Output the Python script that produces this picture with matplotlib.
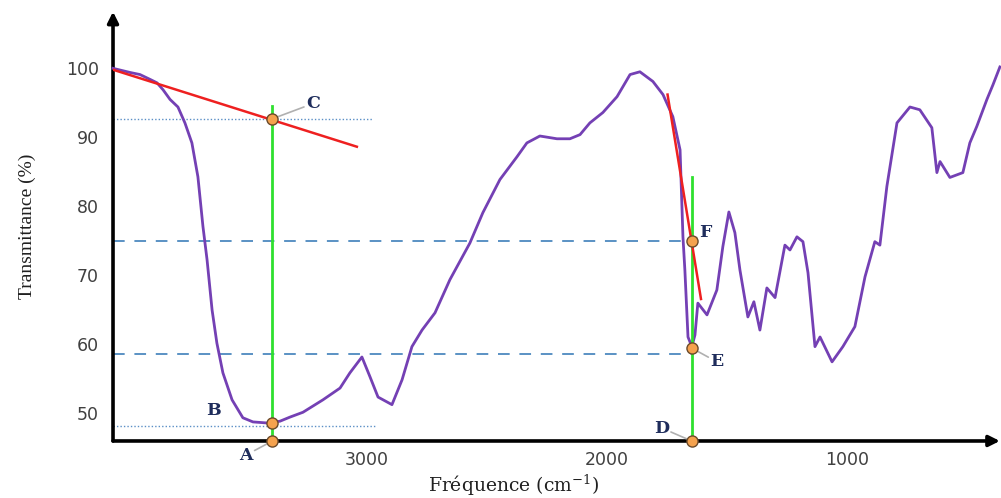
import numpy as np
import matplotlib.pyplot as plt

# IR spectrum (wavenumber cm-1, transmittance %)
wavenumber = [4054, 3983, 3942, 3900, 3871, 3846, 3817, 3784, 3755, 3726,
              3701, 3680, 3663, 3642, 3622, 3597, 3559, 3514, 3472, 3414,
              3360, 3318, 3264, 3181, 3110, 3069, 3019, 2985, 2952, 2894,
              2852, 2811, 2769, 2715, 2653, 2570, 2516, 2445, 2374, 2333,
              2279, 2208, 2154, 2112, 2071, 2017, 1958, 1904, 1863, 1809,
              1767, 1726, 1696, 1684, 1676, 1663, 1647, 1634, 1622, 1584,
              1543, 1518, 1493, 1468, 1447, 1414, 1389, 1364, 1335, 1301,
              1260, 1239, 1210, 1185, 1164, 1135, 1114, 1064, 1019, 969,
              927, 886, 865, 836, 794, 740, 699, 649, 628, 615,
              574, 520, 491, 462, 420, 395, 366]
transmittance = [99.9, 99.3, 99.0, 98.3, 97.8, 96.8, 95.4, 94.3, 92.0, 89.1,
                 84.2, 77.0, 72.2, 64.9, 60.1, 55.8, 51.9, 49.3, 48.7, 48.55,
                 48.8, 49.4, 50.1, 51.9, 53.6, 55.8, 58.1, 55.2, 52.3, 51.2,
                 54.8, 59.6, 62.0, 64.5, 69.3, 74.6, 79.0, 83.8, 87.1, 89.1,
                 90.1, 89.7, 89.7, 90.3, 92.0, 93.5, 95.8, 99.0, 99.4, 98.0,
                 96.1, 92.9, 88.1, 75.5, 70.7, 61.0, 59.6, 61.3, 65.9, 64.2,
                 67.8, 74.1, 79.1, 76.1, 70.7, 63.9, 66.1, 62.0, 68.1, 66.7,
                 74.3, 73.6, 75.5, 74.8, 70.3, 59.6, 61.0, 57.4, 59.6, 62.5,
                 69.7, 74.8, 74.3, 82.8, 92.0, 94.3, 93.9, 91.3, 84.8, 86.4,
                 84.1, 84.8, 89.1, 91.5, 95.4, 97.5, 100.1]

# construction lines
tangent1_x = [4054, 3040]
tangent1_y = [99.7, 88.55]
tangent2_x = [1748, 1609]
tangent2_y = [96.1, 66.5]
vline1_x, vline1_top = 3391, 94.5
vline2_x, vline2_top = 1648, 84.2
level_C, level_B = 92.6, 48.1
level_F, level_E = 74.9, 58.55

# labelled points
pt_names = ["A", "B", "C", "D", "E", "F"]
pt_x = [3391, 3391, 3391, 1648, 1648, 1648]
pt_y = [45.94, 48.55, 92.6, 45.94, 59.4, 74.9]
lab_x = [3501, 3638, 3222, 1771, 1543, 1593]
lab_y = [43.9, 50.4, 94.8, 47.8, 57.4, 76.2]
leader = [True, False, True, True, True, True]

xmin, xmax = 4054, 366
ymin, ymax = 45.94, 108.1

plt.rcParams['mathtext.fontset'] = 'dejavuserif'

fig = plt.figure(figsize=(10.01, 4.98), dpi=100)
ax = fig.add_axes([0.1129, 0.1145, 0.886, 0.862])
ax.set_xlim(xmin, xmax)
ax.set_ylim(ymin, ymax)

for s in ax.spines.values():
    s.set_visible(False)

# axis lines with arrow heads
ax.annotate('', xy=(1.0, 0), xytext=(0, 0), xycoords='axes fraction',
            arrowprops=dict(arrowstyle='-|>', lw=2.6, color='black',
                            mutation_scale=16, shrinkA=0, shrinkB=0))
ax.annotate('', xy=(0, 1.0), xytext=(0, 0), xycoords='axes fraction',
            arrowprops=dict(arrowstyle='-|>', lw=2.6, color='black',
                            mutation_scale=16, shrinkA=0, shrinkB=0))

# horizontal guide lines
ax.plot([xmin, 2977], [level_C, level_C], ls=(0, (1, 1.5)), lw=1.0, color='#5b8fc6', zorder=2)
ax.plot([xmin, 2965], [level_B, level_B], ls=(0, (1, 1.5)), lw=1.0, color='#5b8fc6', zorder=2)
ax.plot([xmin, vline2_x], [level_F, level_F], ls=(0, (6, 5)), lw=1.4, color='#5a92c4', zorder=2)
ax.plot([xmin, vline2_x], [level_E, level_E], ls=(0, (6, 5)), lw=1.4, color='#5a92c4', zorder=2)

# spectrum
ax.plot(wavenumber, transmittance, color='#7440b4', lw=2.0, zorder=3, clip_on=False)

# vertical green lines and red tangents
ax.plot([vline1_x, vline1_x], [ymin, vline1_top], color='#2fe02f', lw=2.0, zorder=4)
ax.plot([vline2_x, vline2_x], [ymin, vline2_top], color='#2fe02f', lw=2.0, zorder=4)
ax.plot(tangent1_x, tangent1_y, color='#ee2020', lw=1.8, zorder=4)
ax.plot(tangent2_x, tangent2_y, color='#ee2020', lw=1.8, zorder=4)

# points and letters
for name, px, py, lx, ly, ld in zip(pt_names, pt_x, pt_y, lab_x, lab_y, leader):
    if ld:
        ax.annotate('', xy=(px, py), xytext=(lx, ly),
                    arrowprops=dict(arrowstyle='-', color='#b0b0b0', lw=1.2,
                                    shrinkA=7, shrinkB=4), annotation_clip=False)
    ax.text(lx, ly, name, fontsize=12.5, fontweight='bold', family='DejaVu Serif',
            color='#1f2d5c', ha='center', va='center', clip_on=False)
ax.plot(pt_x, pt_y, 'o', ms=8, mfc='#f5a24e', mec='#6b4a2a', mew=1.0,
        zorder=6, clip_on=False)

ax.set_xticks([3000, 2000, 1000])
ax.set_yticks([50, 60, 70, 80, 90, 100])
ax.tick_params(length=0, labelsize=12.5, labelcolor='#404040')
ax.tick_params(axis='y', pad=10)
ax.tick_params(axis='x', pad=7)

ax.set_ylabel("Transmittance (%)", family='Liberation Serif', fontsize=14,
              color='#202020', labelpad=22)
fig.text(0.513, 0.012, "Fréquence (cm$^{-1}$)", family='DejaVu Serif',
         fontsize=13.5, color='#202020', ha='center', va='baseline')

fig.savefig("out.png", dpi=100)
